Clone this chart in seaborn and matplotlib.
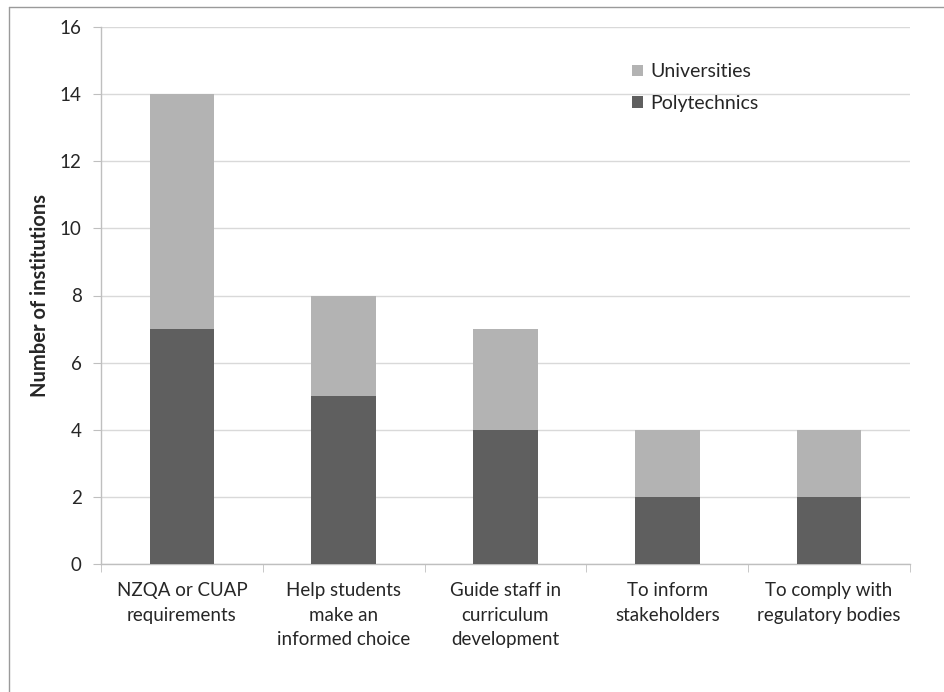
import pandas as pd
import seaborn as sns
import matplotlib.pyplot as plt
from matplotlib.lines import Line2D
from matplotlib.ticker import FixedLocator

categories = ['NZQA or CUAP\nrequirements', 'Help students\nmake an\ninformed choice',
              'Guide staff in\ncurriculum\ndevelopment', 'To inform\nstakeholders',
              'To comply with\nregulatory bodies']
polytechnics = [7, 5, 4, 2, 2]
universities = [7, 3, 3, 2, 2]

df = pd.DataFrame({'cat': categories, 'poly': polytechnics, 'uni': universities})
df['total'] = df['poly'] + df['uni']

sns.set_style("white")
plt.rcParams['font.family'] = ['Lato', 'DejaVu Sans']

fig = plt.figure(figsize=(9.45, 6.92), dpi=100)
ax = fig.add_axes([101 / 945, 1 - 564 / 692, 809 / 945, 537 / 692])

sns.barplot(data=df, x='cat', y='total', color='#b3b3b3', width=0.4, linewidth=0,
            saturation=1, label='Universities', ax=ax, zorder=2)
sns.barplot(data=df, x='cat', y='poly', color='#5f5f5f', width=0.4, linewidth=0,
            saturation=1, label='Polytechnics', ax=ax, zorder=3)

ax.set_ylim(0, 16)
ax.set_xlim(-0.5, 4.5)
ax.set_yticks(range(0, 17, 2))
ax.set_xticks(range(len(categories)))
ax.set_xticklabels(categories, linespacing=1.55, va='top')
ax.yaxis.grid(True, color='#d9d9d9', linewidth=1, zorder=0)
ax.set_axisbelow(True)
ax.set(xlabel='')
ax.set_ylabel('Number of institutions', fontsize=14.5, fontweight='bold', labelpad=7)

for s in ['top', 'right']:
    ax.spines[s].set_visible(False)
for s in ['left', 'bottom']:
    ax.spines[s].set_color('#bfbfbf')
    ax.spines[s].set_linewidth(1)

ax.tick_params(axis='y', length=6, color='#bfbfbf', labelsize=13.5, pad=8, left=True)
ax.tick_params(axis='x', which='major', length=0, labelsize=13.5, pad=13)
ax.xaxis.set_minor_locator(FixedLocator([-0.5, 0.5, 1.5, 2.5, 3.5, 4.5]))
ax.tick_params(axis='x', which='minor', length=6, color='#bfbfbf', bottom=True)

handles, labels = ax.get_legend_handles_labels()
ax.legend(handles, labels, loc='upper left', bbox_to_anchor=(0.635, 0.965),
          frameon=False, fontsize=14, handlelength=0.55, handleheight=0.55,
          handletextpad=0.4, labelspacing=0.75)

fig.add_artist(Line2D([9 / 945, 1], [1 - 7 / 692, 1 - 7 / 692], color='#9a9a9a', lw=1))
fig.add_artist(Line2D([9 / 945, 9 / 945], [0, 1 - 7 / 692], color='#9a9a9a', lw=1))

plt.savefig('out.png', dpi=100)
